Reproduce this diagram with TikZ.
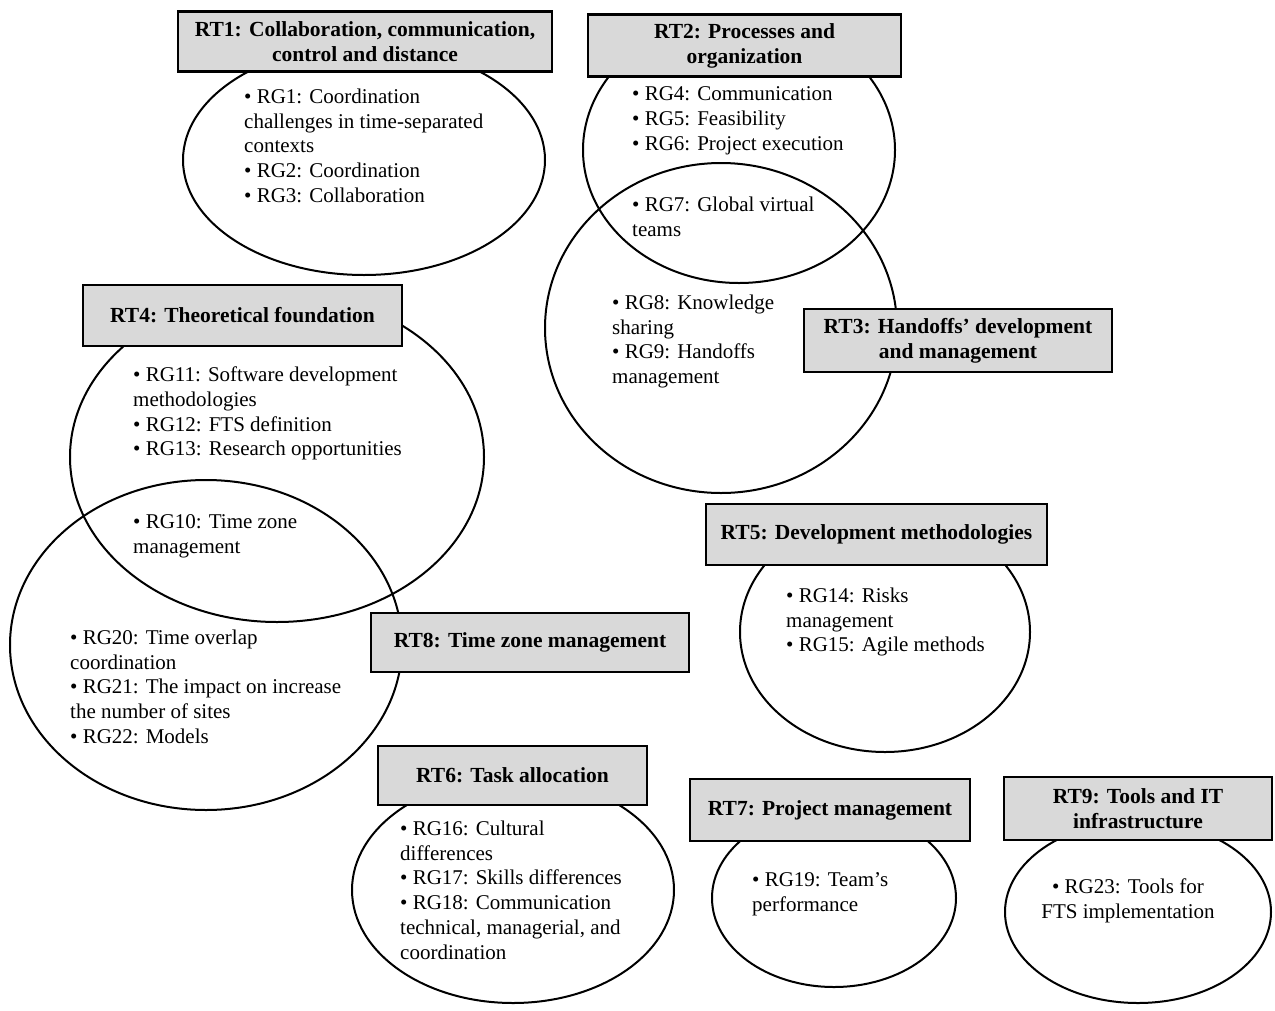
\documentclass[tikz,border=0pt]{standalone}
\usepackage{fontspec}
\setmainfont{Liberation Serif}
\usetikzlibrary{shapes.geometric}
\tikzset{
  ring/.style={draw=black, line width=2pt, ellipse, inner sep=0pt},
  topic/.style={draw=black, line width=2.6pt, fill=black!15, rectangle, inner sep=0pt, align=center,
    font=\fontsize{21.5}{25}\selectfont\bfseries},
  items/.style={anchor=north west, inner sep=0pt, align=left, font=\fontsize{21}{24.8}\selectfont},
}
\begin{document}
\begin{tikzpicture}[x=1pt,y=-1pt]
\path[fill=white] (0,0) rectangle (1275,1010);
\useasboundingbox (0,0) rectangle (1275,1010);
% ellipses
\node[ring, minimum width=362, minimum height=230] (e1) at (364,160) {};
\node[ring, minimum width=312, minimum height=266] (e2) at (739,150) {};
\node[ring, minimum width=352, minimum height=330] (e3) at (721,328) {};
\node[ring, minimum width=414, minimum height=330] (e4) at (277,457) {};
\node[ring, minimum width=392, minimum height=330] (e8) at (206,645) {};
\node[ring, minimum width=290, minimum height=240] (e5) at (885,632) {};
\node[ring, minimum width=322, minimum height=226] (e6) at (513,890) {};
\node[ring, minimum width=244, minimum height=178] (e7) at (834,898) {};
\node[ring, minimum width=266, minimum height=182] (e9) at (1138,912) {};
% topic boxes
\node[topic, minimum width=374, minimum height=60] (rt1) at (365,41.5) {RT1: Collaboration, communication,\\control and distance};
\node[topic, minimum width=313, minimum height=62] (rt2) at (744.5,45.5) {RT2: Processes and\\organization};
\node[topic, minimum width=308, minimum height=63] (rt3) at (958,340.5) {RT3: Handoffs’ development\\and management};
\node[topic, minimum width=319, minimum height=61] (rt4) at (242.5,315.5) {RT4: Theoretical foundation};
\node[topic, minimum width=341, minimum height=61] (rt5) at (876.5,534.5) {RT5: Development methodologies};
\node[topic, minimum width=318, minimum height=59] (rt8) at (530,642.5) {RT8: Time zone management};
\node[topic, minimum width=269, minimum height=59] (rt6) at (512.5,775.5) {RT6: Task allocation};
\node[topic, minimum width=280, minimum height=62] (rt7) at (830,810) {RT7: Project management};
\node[topic, minimum width=268, minimum height=63] (rt9) at (1138,808.5) {RT9: Tools and IT\\infrastructure};
% item lists
\node[items] (g1) at (244,88.5) {• RG1: Coordination\\challenges in time-separated\\contexts\\• RG2: Coordination\\• RG3: Collaboration};
\node[items] (g4) at (632,86.5) {• RG4: Communication\\• RG5: Feasibility\\• RG6: Project execution};
\node[items] (g7) at (632,196.5) {• RG7: Global virtual\\teams};
\node[items] (g8) at (612,294.5) {• RG8: Knowledge\\sharing\\• RG9: Handoffs\\management};
\node[items] (g11) at (133,366.5) {• RG11: Software development\\methodologies\\• RG12: FTS definition\\• RG13: Research opportunities};
\node[items] (g10) at (133,514.5) {• RG10: Time zone\\management};
\node[items] (g20) at (70,629.5) {• RG20: Time overlap\\coordination\\• RG21: The impact on increase\\the number of sites\\• RG22: Models};
\node[items] (g14) at (786,587.5) {• RG14: Risks\\management\\• RG15: Agile methods};
\node[items] (g16) at (400,820.5) {• RG16: Cultural\\differences\\• RG17: Skills differences\\• RG18: Communication\\technical, managerial, and\\coordination};
\node[items] (g19) at (752,872.5) {• RG19: Team’s\\performance};
\node[items, anchor=north, align=center] (g23) at (1128,878.5) {• RG23: Tools for\\FTS implementation};
\end{tikzpicture}
\end{document}
